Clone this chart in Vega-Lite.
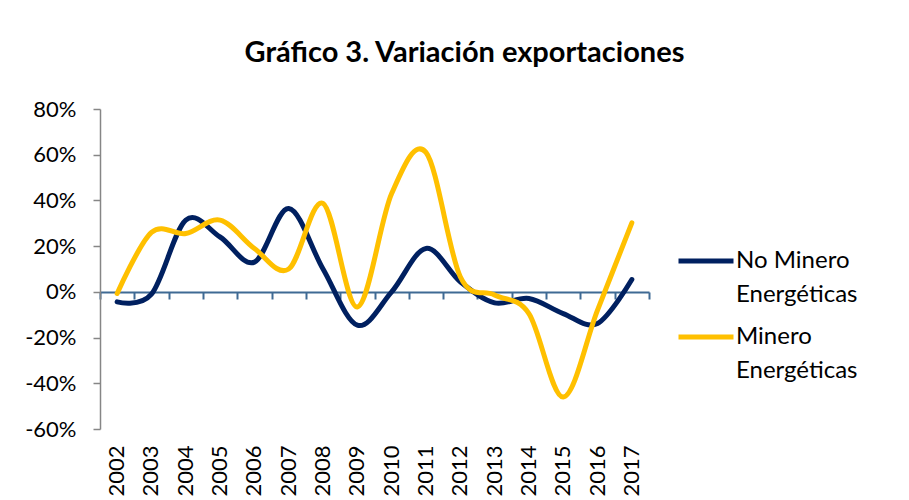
{
  "$schema": "https://vega.github.io/schema/vega-lite/v6.json",
  "width": 549,
  "height": 320,
  "autosize": {"type": "none"},
  "padding": {"left": 100, "top": 109, "right": 260, "bottom": 71},
  "background": "white",
  "config": {
    "view": {"stroke": null},
    "font": "Lato",
    "style": {"guide-label": {"lineHeight": 34}}
  },
  "title": {
    "text": "Gráfico 3. Variación exportaciones",
    "font": "Lato",
    "fontSize": 29,
    "fontWeight": "bold",
    "color": "black",
    "anchor": "middle",
    "dx": 90,
    "baseline": "alphabetic",
    "offset": 7
  },
  "data": {
    "values": [
      {"year": "2002", "serie": "No Minero Energéticas", "value": -4.4},
      {"year": "2003", "serie": "No Minero Energéticas", "value": -1},
      {"year": "2004", "serie": "No Minero Energéticas", "value": 31.4},
      {"year": "2005", "serie": "No Minero Energéticas", "value": 24},
      {"year": "2006", "serie": "No Minero Energéticas", "value": 13},
      {"year": "2007", "serie": "No Minero Energéticas", "value": 36.5},
      {"year": "2008", "serie": "No Minero Energéticas", "value": 10},
      {"year": "2009", "serie": "No Minero Energéticas", "value": -14.6},
      {"year": "2010", "serie": "No Minero Energéticas", "value": 0},
      {"year": "2011", "serie": "No Minero Energéticas", "value": 19},
      {"year": "2012", "serie": "No Minero Energéticas", "value": 4.4},
      {"year": "2013", "serie": "No Minero Energéticas", "value": -4.8},
      {"year": "2014", "serie": "No Minero Energéticas", "value": -2.9},
      {"year": "2015", "serie": "No Minero Energéticas", "value": -9.5},
      {"year": "2016", "serie": "No Minero Energéticas", "value": -13.8},
      {"year": "2017", "serie": "No Minero Energéticas", "value": 5.4},
      {"year": "2002", "serie": "Minero Energéticas", "value": -0.7},
      {"year": "2003", "serie": "Minero Energéticas", "value": 26},
      {"year": "2004", "serie": "Minero Energéticas", "value": 25.5},
      {"year": "2005", "serie": "Minero Energéticas", "value": 31.4},
      {"year": "2006", "serie": "Minero Energéticas", "value": 19},
      {"year": "2007", "serie": "Minero Energéticas", "value": 10},
      {"year": "2008", "serie": "Minero Energéticas", "value": 38.7},
      {"year": "2009", "serie": "Minero Energéticas", "value": -6.6},
      {"year": "2010", "serie": "Minero Energéticas", "value": 43},
      {"year": "2011", "serie": "Minero Energéticas", "value": 61},
      {"year": "2012", "serie": "Minero Energéticas", "value": 6.6},
      {"year": "2013", "serie": "Minero Energéticas", "value": -1.4},
      {"year": "2014", "serie": "Minero Energéticas", "value": -9.5},
      {"year": "2015", "serie": "Minero Energéticas", "value": -46},
      {"year": "2016", "serie": "Minero Energéticas", "value": -8},
      {"year": "2017", "serie": "Minero Energéticas", "value": 30.2}
    ]
  },
  "encoding": {
    "y": {
      "field": "value",
      "type": "quantitative",
      "scale": {"domain": [-60, 80], "nice": false, "zero": false},
      "axis": {
        "title": null,
        "values": [-60, -40, -20, 0, 20, 40, 60, 80],
        "labelExpr": "datum.value + '%'",
        "grid": false,
        "domainColor": "#868686",
        "domainWidth": 1.5,
        "tickColor": "#868686",
        "tickWidth": 1.5,
        "tickSize": 7,
        "labelFont": "Lato",
        "labelFontSize": 22,
        "labelColor": "black",
        "labelPadding": 17
      }
    }
  },
  "layer": [
    {
      "mark": {"type": "line", "opacity": 0},
      "encoding": {
        "x": {
          "field": "year",
          "type": "ordinal",
          "scale": {"type": "band", "paddingInner": 0, "paddingOuter": 0},
          "axis": {
            "orient": "bottom",
            "offset": -137,
            "title": null,
            "labels": false,
            "domainColor": "#3F6A94",
            "domainWidth": 2,
            "tickColor": "#3F6A94",
            "tickWidth": 2,
            "tickSize": 7,
            "tickBand": "extent"
          }
        },
        "detail": {"field": "serie"}
      }
    },
    {
      "mark": {"type": "line", "interpolate": "cardinal", "strokeWidth": 5, "strokeCap": "round"},
      "encoding": {
        "x": {
          "field": "year",
          "type": "ordinal",
          "scale": {"type": "band", "paddingInner": 0, "paddingOuter": 0},
          "axis": {
            "orient": "bottom",
            "title": null,
            "domain": false,
            "ticks": false,
            "tickSize": 0,
            "labelAngle": -90,
            "labelAlign": "right",
            "labelBaseline": "middle",
            "labelPadding": 16,
            "labelFont": "Lato",
            "labelFontSize": 22,
            "labelColor": "black"
          }
        },
        "color": {
          "field": "serie",
          "type": "nominal",
          "sort": ["No Minero Energéticas", "Minero Energéticas"],
          "scale": {"domain": ["No Minero Energéticas", "Minero Energéticas"], "range": ["#002060", "#FFC000"]},
          "legend": {
            "orient": "none",
            "legendX": 576,
            "legendY": 122,
            "padding": 0,
            "title": null,
            "symbolType": "stroke",
            "symbolSize": 3025,
            "symbolStrokeWidth": 5,
            "labelFont": "Lato",
            "labelFontSize": 24,
            "labelColor": "black",
            "labelOffset": 0,
            "labelLimit": 300,
            "rowPadding": 0,
            "labelExpr": "datum.label == 'No Minero Energéticas' ? ['No Minero', 'Energéticas'] : ['\u2009Minero', 'Energéticas']"
          }
        }
      }
    }
  ],
  "resolve": {"axis": {"x": "independent"}}
}
